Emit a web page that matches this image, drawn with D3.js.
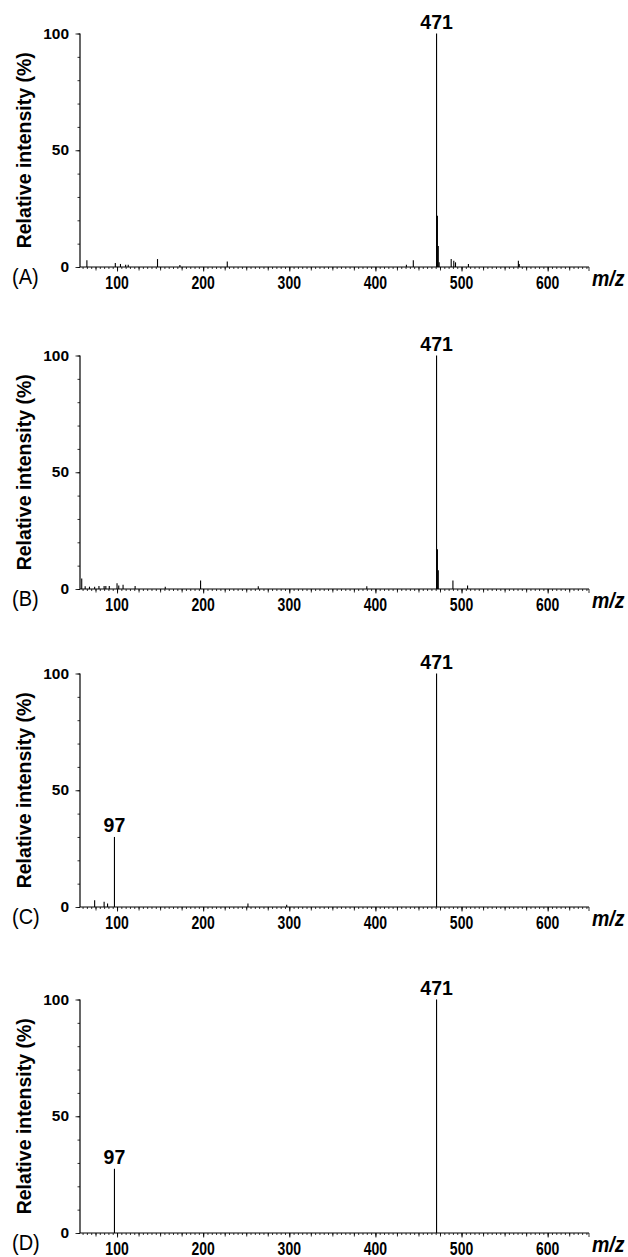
<!DOCTYPE html>
<html><head><meta charset="utf-8">
<script src="https://cdn.jsdelivr.net/npm/d3@7"></script>
<style>body{margin:0;background:#fff}svg{display:block}</style>
</head><body><svg id="c" width="628" height="1257"></svg>
<script>
// ---- data ----
const panelLabels = ["(A)", "(B)", "(C)", "(D)"];
const mzA  = [65, 98, 104, 110, 113, 147, 173, 228, 436, 444, 471, 472, 473, 474, 488, 491, 493, 508, 566, 567];
const intA = [2.9, 1.7, 1.3, 1.0, 1.0, 3.4, 0.9, 2.4, 1.0, 2.9, 100, 22, 9, 2, 3.4, 2.7, 2.0, 1.3, 2.7, 1.3];
const mzB  = [59, 63, 68, 74, 79, 85, 87, 91, 100, 102, 107, 121, 156, 197, 264, 390, 471, 472, 473, 490, 507];
const intB = [4.5, 1.2, 1.0, 1.0, 1.3, 1.3, 1.3, 1.3, 2.5, 1.5, 1.8, 1.3, 1.0, 3.6, 1.2, 1.2, 100, 17, 8, 3.6, 1.5];
const mzC  = [74, 85, 89, 97, 252, 297, 471];
const intC = [2.9, 2.3, 1.5, 30, 1.5, 1.0, 100];
const mzD  = [97, 471];
const intD = [27.5, 100];
const annotA = [471], annotB = [471], annotC = [97, 471], annotD = [97, 471];
const xTickLabels = [100, 200, 300, 400, 500, 600];
const yTickLabels = [0, 50, 100];
const xDomain = [57, 648];
const yDomain = [0, 100];
const yTitle = "Relative intensity (%)";
const xTitle = "m/z";

// ---- layout ----
const svg = d3.select("#c");
const FONT = "'Liberation Sans', Arial, Helvetica, sans-serif";
const baselines = [267, 589, 907, 1233];
const plotH = 233.5, left = 80, right = 589;
const panels = [
  {mz: mzA, it: intA, ann: annotA},
  {mz: mzB, it: intB, ann: annotB},
  {mz: mzC, it: intC, ann: annotC},
  {mz: mzD, it: intD, ann: annotD}
];
const x = d3.scaleLinear().domain(xDomain).range([left, right]);

panels.forEach((p, i) => {
  const base = baselines[i];
  const y = d3.scaleLinear().domain(yDomain).range([base, base - plotH]);
  const g = svg.append("g");

  // x axis: minor / medium / major ticks
  const mk = (vals, size) => {
    const a = d3.axisBottom(x).tickValues(vals).tickSize(size).tickFormat("");
    const ag = g.append("g").attr("transform", `translate(0,${base})`).call(a);
    ag.select(".domain").remove();
    ag.selectAll("line").attr("stroke", "#000").attr("stroke-width", 0.8);
  };
  mk(d3.range(60, 649, 5), 2);
  mk(d3.range(75, 649, 25), 3.5);
  mk(xTickLabels, 4.5);
  g.append("line").attr("x1", left).attr("x2", right).attr("y1", base).attr("y2", base)
    .attr("stroke", "#000").attr("stroke-width", 1.2);
  g.append("line").attr("x1", right).attr("x2", right).attr("y1", base).attr("y2", base + 4)
    .attr("stroke", "#000").attr("stroke-width", 0.8);

  // y axis
  const ya = (vals, size) => {
    const a = d3.axisLeft(y).tickValues(vals).tickSize(size).tickFormat("");
    const ag = g.append("g").attr("transform", `translate(${left},0)`).call(a);
    ag.select(".domain").remove();
    ag.selectAll("line").attr("stroke", "#000").attr("stroke-width", 0.8);
  };
  ya(d3.range(0, 101, 10), 2.5);
  ya(yTickLabels, 4.5);
  g.append("line").attr("x1", left).attr("x2", left).attr("y1", y(100)).attr("y2", base)
    .attr("stroke", "#000").attr("stroke-width", 1.2);

  // x tick labels (tall, narrow look)
  xTickLabels.forEach(v => {
    g.append("text").attr("transform", `translate(${x(v)},${base + 22}) scale(1,1.3)`)
      .attr("text-anchor", "middle").attr("font-family", FONT).attr("font-weight", "bold")
      .attr("font-size", 14).text(v);
  });
  // y tick labels
  yTickLabels.forEach(v => {
    g.append("text").attr("transform", `translate(69,${y(v) + 5}) scale(1,0.9)`)
      .attr("text-anchor", "end").attr("font-family", FONT).attr("font-weight", "bold")
      .attr("font-size", 15.5).text(v);
  });
  // y title
  g.append("text").attr("transform", `translate(31,${base - plotH / 2}) rotate(-90)`)
    .attr("text-anchor", "middle").attr("font-family", FONT).attr("font-weight", "bold")
    .attr("font-size", 19.5).text(yTitle);
  // panel label
  g.append("text").attr("transform", `translate(12,${base + 17}) scale(1,1.12)`)
    .attr("font-family", FONT).attr("font-size", 20).text(panelLabels[i]);
  // m/z
  g.append("text").attr("transform", `translate(592,${base + 19}) scale(1,1.1)`)
    .attr("font-family", FONT).attr("font-weight", "bold").attr("font-style", "italic")
    .attr("font-size", 19.5).text(xTitle);

  // peaks
  const data = p.mz.map((m, k) => ({m, v: p.it[k]}));
  g.selectAll("line.pk").data(data).enter().append("line").attr("class", "pk")
    .attr("x1", d => x(d.m)).attr("x2", d => x(d.m))
    .attr("y1", base).attr("y2", d => y(d.v))
    .attr("stroke", "#000").attr("stroke-width", 1.1);

  // annotations
  p.ann.forEach(m => {
    const k = p.mz.indexOf(m);
    g.append("text").attr("x", x(m)).attr("y", y(p.it[k]) - 5)
      .attr("text-anchor", "middle").attr("font-family", FONT).attr("font-weight", "bold")
      .attr("font-size", 19.5).text(m);
  });
});
</script>
</body></html>
